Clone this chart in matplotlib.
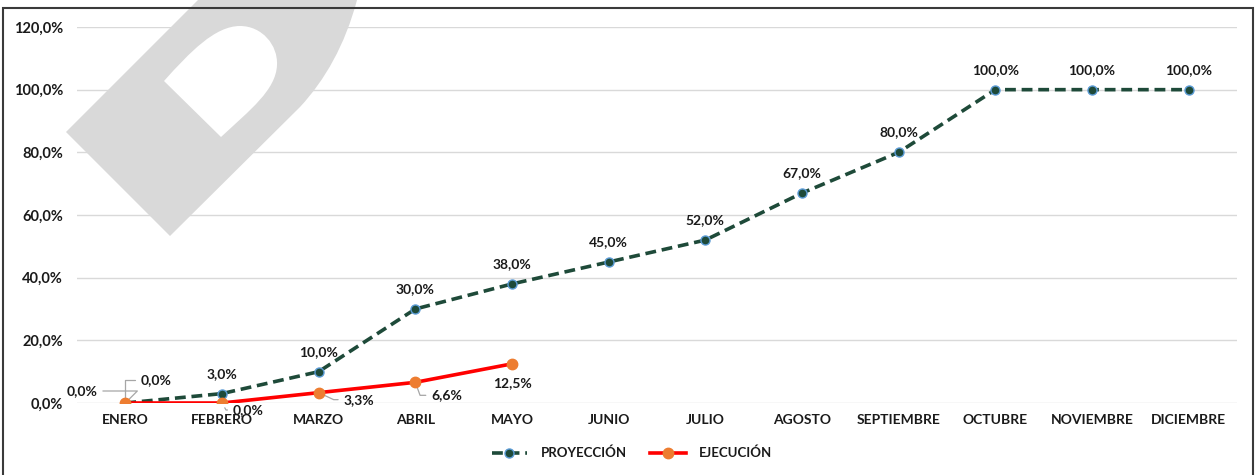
import numpy as np
import matplotlib
matplotlib.use('Agg')
import matplotlib.pyplot as plt
from matplotlib.path import Path
from matplotlib.patches import PathPatch, Rectangle
from matplotlib.lines import Line2D

# datos del gráfico
meses = ['ENERO', 'FEBRERO', 'MARZO', 'ABRIL', 'MAYO', 'JUNIO', 'JULIO',
         'AGOSTO', 'SEPTIEMBRE', 'OCTUBRE', 'NOVIEMBRE', 'DICIEMBRE']
proyeccion = [0.0, 3.0, 10.0, 30.0, 38.0, 45.0, 52.0, 67.0, 80.0, 100.0, 100.0, 100.0]
ejecucion = [0.0, 0.0, 3.3, 6.6, 12.5]
y_ticks = [0, 20, 40, 60, 80, 100, 120]

COLOR_PROY = '#1E4A39'
COLOR_EJEC = '#FF0000'
COLOR_MARK_EJEC = '#ED7D31'
COLOR_TEXTO = '#1A1A1A'
COLOR_GUIA = '#A6A6A6'

plt.rcParams['font.family'] = ['Lato', 'DejaVu Sans']

W, H = 1257, 475


def pct(v):
    """formato 12,5%"""
    return f"{v:.1f}%".replace('.', ',')


def px(x, y):
    """pixel (origen arriba-izquierda) -> coordenadas de pantalla"""
    return (x, H - y)


fig = plt.figure(figsize=(W / 100, H / 100), dpi=100)
ax = fig.add_axes([77 / W, 1 - 403 / H, (1237 - 77) / W, (403 - 27) / H])
ax.set_facecolor('none')

# marca de agua (forma gris de fondo) y su hueco blanco
outer = [(66, 132), (206, -8), (362, -8), (360, -2), (357, 0),
         (345, 45), (325, 80), (300, 107), (170, 236), (66, 132)]
outer_codes = [Path.MOVETO, Path.LINETO, Path.LINETO, Path.LINETO, Path.LINETO,
               Path.CURVE4, Path.CURVE4, Path.CURVE4, Path.LINETO, Path.CLOSEPOLY]
hole = [(164, 81), (190, 52), (215, 26), (240, 26), (262, 26), (278, 45),
        (277, 65), (276, 90), (250, 110), (221, 137), (164, 81)]
hole_codes = [Path.MOVETO, Path.CURVE4, Path.CURVE4, Path.CURVE4, Path.CURVE4,
              Path.CURVE4, Path.CURVE4, Path.CURVE4, Path.CURVE4, Path.CURVE4,
              Path.CLOSEPOLY]
wm = PathPatch(Path([px(*p) for p in outer], outer_codes), facecolor='#D9D9D9',
               edgecolor='none', transform=None, zorder=0)
wm_hole = PathPatch(Path([px(*p) for p in hole], hole_codes), facecolor='white',
                    edgecolor='none', transform=None, zorder=0.1)
fig.patches.extend([wm, wm_hole])

# marco exterior
fig.patches.append(Rectangle((3 / W, -0.02), (1253 - 3) / W, 1.02 - 8 / H,
                             transform=fig.transFigure, fill=False,
                             edgecolor='#3A3A3A', linewidth=1.5, zorder=5))

x = np.arange(len(meses))
xe = np.arange(len(ejecucion))

ax.plot(x, proyeccion, color=COLOR_PROY, linewidth=2.6, dashes=(3, 1.6),
        marker='o', markersize=6.5, markerfacecolor=COLOR_PROY,
        markeredgecolor='#5B9BD5', markeredgewidth=1.0, zorder=3)
ax.plot(xe, ejecucion, color=COLOR_EJEC, linewidth=2.6,
        marker='o', markersize=7.5, markerfacecolor=COLOR_MARK_EJEC,
        markeredgecolor=COLOR_MARK_EJEC, zorder=4)

ax.set_xlim(-0.5, len(meses) - 0.5)
ax.set_ylim(0, 120)
ax.set_yticks(y_ticks)
ax.set_yticklabels([pct(v) for v in y_ticks])
ax.set_xticks(x)
ax.set_xticklabels(meses)
ax.tick_params(axis='both', length=0, labelcolor=COLOR_TEXTO)
ax.tick_params(axis='y', pad=10, labelsize=10.5)
ax.tick_params(axis='x', pad=8, labelsize=10)
for lab in ax.get_xticklabels() + ax.get_yticklabels():
    lab.set_fontweight('bold')
for s in ax.spines.values():
    s.set_visible(False)
ax.grid(axis='y', color='#D9D9D9', linewidth=1.0, zorder=0.5)
ax.set_axisbelow(True)

lbl = dict(fontsize=10, fontweight='bold', color=COLOR_TEXTO,
           textcoords='offset pixels', annotation_clip=False)
guia = dict(arrowstyle='-', color=COLOR_GUIA, linewidth=0.9,
            shrinkA=2, shrinkB=4)

# etiquetas de proyección
for i, v in enumerate(proyeccion):
    if i == 0:
        ax.annotate(pct(v), (i, v), xytext=(-28, 12), ha='right', va='center',
                    arrowprops=dict(guia, relpos=(1, 0.5),
                                    connectionstyle='angle,angleA=0,angleB=45,rad=0'),
                    **lbl)
    else:
        ax.annotate(pct(v), (i, v), xytext=(0, 20), ha='center', va='center', **lbl)

# etiquetas de ejecución (desplazamientos en pixeles)
offs_ejec = [(15, 23), (11, -7), (25, -7), (16, -13), (0, -19)]
angulos = [90, -60, -25, -70, None]
for i, v in enumerate(ejecucion):
    dx, dy = offs_ejec[i]
    if angulos[i] is None:
        ax.annotate(pct(v), (i, v), xytext=(dx, dy), ha='center', va='center', **lbl)
    else:
        ax.annotate(pct(v), (i, v), xytext=(dx, dy), ha='left', va='center',
                    arrowprops=dict(guia, relpos=(0, 0.5),
                                    connectionstyle=f'angle,angleA=0,angleB={angulos[i]},rad=0'),
                    **lbl)

# leyenda
handles = [
    Line2D([], [], color=COLOR_PROY, linewidth=2.6, dashes=(3, 1.6), marker='o',
           markersize=6.5, markerfacecolor=COLOR_PROY, markeredgecolor='#5B9BD5'),
    Line2D([], [], color=COLOR_EJEC, linewidth=2.6, marker='o', markersize=7.5,
           markerfacecolor=COLOR_MARK_EJEC, markeredgecolor=COLOR_MARK_EJEC),
]
leg = fig.legend(handles, ['PROYECCIÓN', 'EJECUCIÓN'], loc='center',
                 bbox_to_anchor=(632 / W, 1 - 453 / H), ncol=2, frameon=False,
                 handlelength=2.7, handletextpad=1.0, columnspacing=1.8,
                 prop={'size': 9.5, 'weight': 'bold'})
for t in leg.get_texts():
    t.set_color(COLOR_TEXTO)

fig.savefig('out.png', dpi=100)
